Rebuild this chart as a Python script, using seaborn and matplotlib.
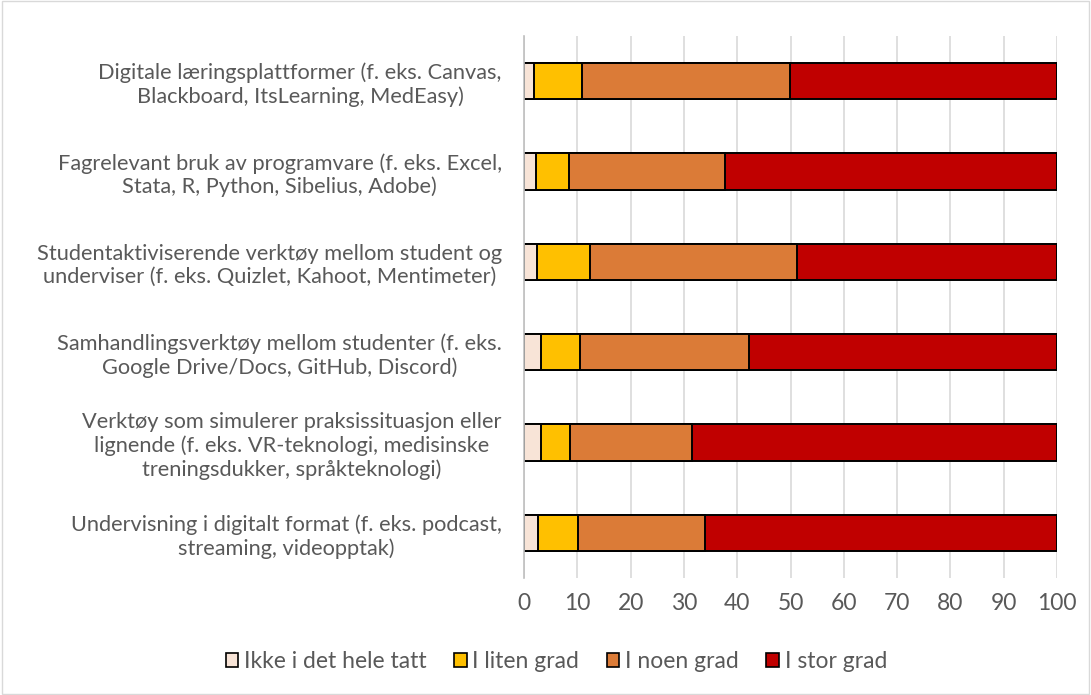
import pandas as pd
import seaborn as sns
import matplotlib
matplotlib.use('Agg')
import matplotlib.pyplot as plt
from matplotlib.patches import Patch

# Categories (top to bottom) and shares in percent
categories = [
    "Digitale læringsplattformer (f. eks. Canvas,\nBlackboard, ItsLearning, MedEasy)",
    "Fagrelevant bruk av programvare (f. eks. Excel,\nStata, R, Python, Sibelius, Adobe)",
    "Studentaktiviserende verktøy mellom student og\nunderviser (f. eks. Quizlet, Kahoot, Mentimeter)",
    "Samhandlingsverktøy mellom studenter (f. eks.\nGoogle Drive/Docs, GitHub, Discord)",
    "Verktøy som simulerer praksissituasjon eller\nlignende (f. eks. VR-teknologi, medisinske\ntreningsdukker, språkteknologi)",
    "Undervisning i digitalt format (f. eks. podcast,\nstreaming, videopptak)",
]
ikke = [1.9, 2.3, 2.4, 3.1, 3.2, 2.6]
liten = [9.0, 6.2, 10.0, 7.4, 5.4, 7.5]
noen = [39.0, 29.3, 38.9, 31.7, 23.0, 23.9]
stor = [50.1, 62.2, 48.7, 57.8, 68.4, 66.0]

series_names = ["Ikke i det hele tatt", "I liten grad", "I noen grad", "I stor grad"]
colors = ["#F8E4D7", "#FFC000", "#DB7B37", "#C00000"]

df = pd.DataFrame({"Kategori": categories, series_names[0]: ikke,
                   series_names[1]: liten, series_names[2]: noen,
                   series_names[3]: stor})
cum = df[series_names].cumsum(axis=1)
cum["Kategori"] = categories

sns.set_style("white")
plt.rcParams['font.family'] = ['Lato', 'DejaVu Sans']
FS = 16.5
TXT = "#595959"

fig = plt.figure(figsize=(10.91, 6.95), dpi=100)
ax = fig.add_axes([524 / 1091, 1 - 578 / 695, (1057 - 524) / 1091, (578 - 36) / 695])

# draw cumulative layers from the back so each stacked segment shows
for name, col in reversed(list(zip(series_names, colors))):
    sns.barplot(data=cum, y="Kategori", x=name, color=col, orient="h",
                width=0.4, edgecolor="black", linewidth=1.4, ax=ax,
                saturation=1)

ax.set_xlim(0, 100)
ax.set_ylim(5.5, -0.5)
ax.set_xticks(range(0, 101, 10))
ax.xaxis.grid(True, color="#d9d9d9", linewidth=1.2)
ax.set_axisbelow(True)
for s in ["top", "right", "bottom"]:
    ax.spines[s].set_visible(False)
ax.spines["left"].set_color("#bfbfbf")
ax.spines["left"].set_linewidth(1.2)
ax.set_xlabel("")
ax.set_ylabel("")
ax.tick_params(axis="x", colors=TXT, labelsize=FS, length=0, pad=11)
ax.tick_params(axis="y", colors=TXT, labelsize=15.7, length=0, pad=16)
for lbl in ax.get_yticklabels():
    lbl.set_horizontalalignment("right")
    lbl.set_multialignment("center")
    lbl.set_linespacing(1.2)

handles = [Patch(facecolor=c, edgecolor="black", linewidth=1.2) for c in colors]
leg = fig.legend(handles, series_names, loc="center", bbox_to_anchor=(0.51, 1 - 662 / 695),
                 ncol=4, frameon=False, fontsize=FS, handlelength=0.55, handleheight=0.55,
                 handletextpad=0.25, columnspacing=1.2)
for t in leg.get_texts():
    t.set_color(TXT)

# light grey frame around the whole chart
fig.patches.append(plt.Rectangle((0.002, 0.002), 0.996, 0.996, transform=fig.transFigure,
                                 fill=False, edgecolor="#d9d9d9", linewidth=1))

fig.savefig("out.png", dpi=100)
